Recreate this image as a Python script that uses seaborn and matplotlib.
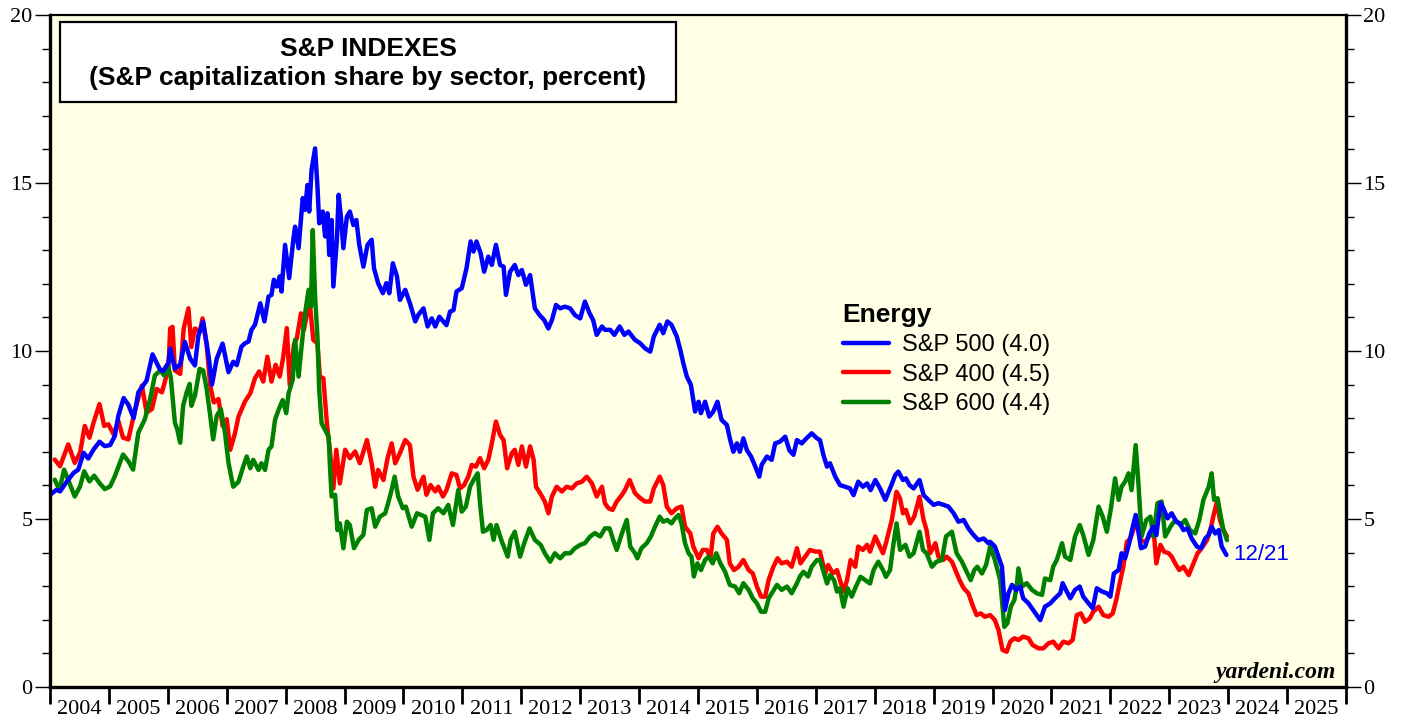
import numpy as np
import pandas as pd
import matplotlib
matplotlib.use("Agg")
import matplotlib.pyplot as plt
from matplotlib.patches import Rectangle
from matplotlib.ticker import MultipleLocator, FixedLocator, NullFormatter, FixedFormatter
import seaborn as sns

# S&P 500 energy share (decimal year, percent)
sp500_t = [2004.00, 2004.11, 2004.17, 2004.28, 2004.40, 2004.48, 2004.57, 2004.65, 2004.74, 2004.84,
           2004.93, 2005.02, 2005.10, 2005.16, 2005.25, 2005.33, 2005.42, 2005.50, 2005.64, 2005.74,
           2005.86, 2005.92, 2006.01, 2006.04, 2006.12, 2006.21, 2006.29, 2006.38, 2006.46, 2006.52,
           2006.60, 2006.69, 2006.75, 2006.83, 2006.93, 2007.03, 2007.11, 2007.17, 2007.25, 2007.31,
           2007.37, 2007.42, 2007.48, 2007.57, 2007.64, 2007.71, 2007.76, 2007.80, 2007.85, 2007.90,
           2007.93, 2007.99, 2008.06, 2008.13, 2008.16, 2008.22, 2008.29, 2008.33, 2008.37, 2008.40,
           2008.44, 2008.50, 2008.54, 2008.57, 2008.63, 2008.67, 2008.71, 2008.74, 2008.78, 2008.81,
           2008.87, 2008.90, 2008.94, 2008.98, 2009.04, 2009.09, 2009.15, 2009.20, 2009.25, 2009.32,
           2009.39, 2009.46, 2009.50, 2009.57, 2009.65, 2009.71, 2009.76, 2009.82, 2009.89, 2009.94,
           2010.03, 2010.11, 2010.20, 2010.25, 2010.34, 2010.41, 2010.48, 2010.54, 2010.61, 2010.68,
           2010.73, 2010.79, 2010.85, 2010.90, 2010.99, 2011.07, 2011.14, 2011.19, 2011.24, 2011.31,
           2011.37, 2011.44, 2011.50, 2011.57, 2011.64, 2011.70, 2011.74, 2011.81, 2011.89, 2011.95,
           2012.01, 2012.08, 2012.15, 2012.23, 2012.31, 2012.39, 2012.46, 2012.52, 2012.59, 2012.66,
           2012.74, 2012.83, 2012.91, 2013.00, 2013.08, 2013.16, 2013.22, 2013.28, 2013.37, 2013.42,
           2013.51, 2013.58, 2013.67, 2013.75, 2013.82, 2013.93, 2014.02, 2014.10, 2014.19, 2014.25,
           2014.35, 2014.41, 2014.48, 2014.55, 2014.64, 2014.70, 2014.75, 2014.81, 2014.88, 2014.92,
           2014.95, 2015.01, 2015.05, 2015.12, 2015.19, 2015.26, 2015.33, 2015.40, 2015.49, 2015.54,
           2015.60, 2015.66, 2015.71, 2015.77, 2015.83, 2015.90, 2015.95, 2016.04, 2016.08, 2016.17,
           2016.25, 2016.31, 2016.39, 2016.48, 2016.55, 2016.62, 2016.68, 2016.76, 2016.84, 2016.93,
           2017.02, 2017.07, 2017.13, 2017.19, 2017.24, 2017.33, 2017.41, 2017.50, 2017.58, 2017.64,
           2017.72, 2017.80, 2017.87, 2017.93, 2018.01, 2018.09, 2018.18, 2018.26, 2018.35, 2018.40,
           2018.48, 2018.53, 2018.59, 2018.66, 2018.76, 2018.83, 2018.91, 2019.00, 2019.08, 2019.17,
           2019.25, 2019.34, 2019.42, 2019.51, 2019.59, 2019.68, 2019.76, 2019.85, 2019.93, 2019.96,
           2020.04, 2020.10, 2020.16, 2020.21, 2020.27, 2020.33, 2020.40, 2020.47, 2020.52, 2020.61,
           2020.69, 2020.81, 2020.89, 2020.98, 2021.06, 2021.15, 2021.19, 2021.26, 2021.32, 2021.40,
           2021.48, 2021.54, 2021.63, 2021.70, 2021.77, 2021.86, 2021.94, 2022.00, 2022.06, 2022.14,
           2022.19, 2022.25, 2022.32, 2022.38, 2022.43, 2022.48, 2022.52, 2022.59, 2022.66, 2022.73,
           2022.78, 2022.85, 2022.90, 2022.97, 2023.04, 2023.12, 2023.18, 2023.24, 2023.31, 2023.38,
           2023.47, 2023.54, 2023.61, 2023.67, 2023.72, 2023.78, 2023.84, 2023.89, 2023.97]
sp500_v = [5.72, 5.87, 5.82, 6.10, 6.37, 6.47, 6.97, 6.80, 7.07, 7.30,
           7.17, 7.20, 7.47, 8.07, 8.60, 8.40, 8.00, 8.77, 9.12, 9.90,
           9.47, 9.40, 9.65, 10.07, 9.47, 9.60, 10.27, 9.77, 9.57, 10.47,
           10.87, 9.87, 9.00, 9.77, 10.22, 9.37, 9.68, 9.58, 10.13, 10.23,
           10.28, 10.63, 10.78, 11.42, 10.88, 11.62, 11.67, 12.12, 11.92, 12.22,
           11.77, 13.16, 12.17, 13.31, 13.70, 13.06, 14.55, 14.20, 14.94, 14.15,
           15.39, 16.03, 14.89, 13.80, 14.15, 13.41, 14.10, 12.86, 13.90, 11.92,
           13.31, 14.65, 13.95, 13.06, 14.00, 14.15, 13.75, 13.90, 13.16, 12.51,
           13.16, 13.31, 12.46, 12.02, 11.72, 12.02, 11.72, 12.61, 12.22, 11.52,
           11.82, 11.42, 10.88, 11.07, 11.27, 10.73, 10.97, 10.73, 11.02, 10.87,
           10.77, 11.17, 11.22, 11.77, 11.87, 12.46, 13.26, 12.96, 13.26, 12.91,
           12.36, 12.81, 12.56, 13.16, 12.56, 12.51, 11.67, 12.36, 12.56, 12.26,
           12.41, 11.97, 12.26, 11.27, 11.07, 10.92, 10.67, 10.92, 11.37, 11.27,
           11.32, 11.27, 11.07, 10.97, 11.47, 11.12, 10.92, 10.48, 10.73, 10.63,
           10.63, 10.48, 10.73, 10.48, 10.58, 10.33, 10.23, 10.08, 9.98, 10.43,
           10.78, 10.53, 10.88, 10.78, 10.43, 10.03, 9.64, 9.24, 8.99, 8.54,
           8.20, 8.49, 8.15, 8.49, 8.05, 8.20, 8.49, 7.95, 7.80, 7.40,
           7.00, 7.25, 7.00, 7.40, 7.05, 6.86, 6.66, 6.26, 6.61, 6.86,
           6.76, 7.25, 7.30, 7.45, 7.05, 6.91, 7.35, 7.25, 7.40, 7.55,
           7.40, 7.35, 6.90, 6.56, 6.66, 6.26, 6.01, 5.96, 5.91, 5.71,
           6.11, 5.96, 6.06, 5.86, 6.16, 5.91, 5.57, 5.91, 6.31, 6.41,
           6.16, 6.21, 6.01, 5.91, 6.16, 5.71, 5.57, 5.42, 5.47, 5.42,
           5.37, 5.17, 4.92, 4.97, 4.72, 4.52, 4.37, 4.42, 4.28, 4.32,
           4.18, 3.88, 3.58, 2.29, 2.79, 3.04, 2.89, 2.99, 2.64, 2.49,
           2.29, 1.99, 2.39, 2.49, 2.64, 2.79, 3.09, 2.84, 2.64, 2.89,
           2.99, 2.69, 2.49, 2.34, 2.94, 2.84, 2.79, 2.69, 3.38, 3.48,
           3.98, 3.83, 4.28, 4.77, 5.12, 4.57, 4.13, 4.18, 4.57, 4.77,
           4.52, 5.47, 5.32, 5.02, 5.17, 4.92, 4.87, 4.67, 4.72, 4.42,
           4.18, 4.13, 4.42, 4.52, 4.77, 4.57, 4.67, 4.18, 3.93]

# S&P 400 energy share
sp400_t = [2004.08, 2004.17, 2004.31, 2004.42, 2004.51, 2004.59, 2004.67, 2004.74, 2004.84, 2004.92,
           2004.99, 2005.08, 2005.16, 2005.24, 2005.33, 2005.44, 2005.56, 2005.64, 2005.73, 2005.81,
           2005.90, 2006.01, 2006.04, 2006.08, 2006.12, 2006.21, 2006.27, 2006.35, 2006.40, 2006.46,
           2006.54, 2006.59, 2006.66, 2006.72, 2006.78, 2006.86, 2006.93, 2007.00, 2007.06, 2007.14,
           2007.20, 2007.25, 2007.31, 2007.40, 2007.48, 2007.55, 2007.62, 2007.69, 2007.76, 2007.83,
           2007.90, 2007.96, 2008.02, 2008.07, 2008.14, 2008.19, 2008.26, 2008.31, 2008.37, 2008.41,
           2008.47, 2008.54, 2008.58, 2008.64, 2008.70, 2008.75, 2008.81, 2008.86, 2008.92, 2009.01,
           2009.09, 2009.18, 2009.26, 2009.38, 2009.46, 2009.52, 2009.57, 2009.66, 2009.73, 2009.80,
           2009.86, 2009.94, 2010.03, 2010.11, 2010.17, 2010.24, 2010.34, 2010.39, 2010.46, 2010.54,
           2010.59, 2010.67, 2010.73, 2010.82, 2010.90, 2010.96, 2011.03, 2011.10, 2011.16, 2011.23,
           2011.30, 2011.37, 2011.44, 2011.50, 2011.57, 2011.64, 2011.70, 2011.76, 2011.84, 2011.89,
           2011.95, 2012.01, 2012.08, 2012.15, 2012.21, 2012.25, 2012.32, 2012.40, 2012.46, 2012.52,
           2012.60, 2012.69, 2012.77, 2012.86, 2012.94, 2013.03, 2013.11, 2013.20, 2013.28, 2013.37,
           2013.42, 2013.48, 2013.55, 2013.62, 2013.71, 2013.76, 2013.84, 2013.93, 2014.02, 2014.10,
           2014.19, 2014.25, 2014.35, 2014.41, 2014.47, 2014.55, 2014.64, 2014.72, 2014.78, 2014.87,
           2014.92, 2015.01, 2015.08, 2015.15, 2015.21, 2015.26, 2015.33, 2015.40, 2015.49, 2015.54,
           2015.61, 2015.69, 2015.77, 2015.86, 2015.93, 2016.00, 2016.07, 2016.14, 2016.20, 2016.28,
           2016.35, 2016.42, 2016.51, 2016.59, 2016.68, 2016.74, 2016.82, 2016.90, 2016.99, 2017.07,
           2017.16, 2017.21, 2017.29, 2017.36, 2017.41, 2017.47, 2017.53, 2017.59, 2017.67, 2017.72,
           2017.80, 2017.87, 2017.92, 2018.01, 2018.06, 2018.14, 2018.19, 2018.29, 2018.37, 2018.43,
           2018.48, 2018.53, 2018.60, 2018.67, 2018.76, 2018.83, 2018.88, 2018.94, 2019.03, 2019.08,
           2019.16, 2019.22, 2019.31, 2019.37, 2019.44, 2019.51, 2019.59, 2019.67, 2019.73, 2019.80,
           2019.87, 2019.96, 2020.04, 2020.10, 2020.17, 2020.24, 2020.30, 2020.37, 2020.44, 2020.52,
           2020.61, 2020.68, 2020.78, 2020.86, 2020.95, 2021.03, 2021.12, 2021.20, 2021.29, 2021.36,
           2021.43, 2021.50, 2021.57, 2021.65, 2021.71, 2021.80, 2021.88, 2021.97, 2022.04, 2022.10,
           2022.17, 2022.22, 2022.28, 2022.34, 2022.39, 2022.45, 2022.51, 2022.59, 2022.66, 2022.73,
           2022.78, 2022.85, 2022.91, 2022.99, 2023.04, 2023.10, 2023.17, 2023.24, 2023.33, 2023.41,
           2023.48, 2023.55, 2023.64, 2023.71, 2023.76, 2023.81, 2023.86, 2023.92, 2023.98]
sp400_v = [6.77, 6.57, 7.22, 6.67, 6.97, 7.77, 7.42, 7.87, 8.42, 7.77,
           7.82, 7.52, 7.92, 7.42, 7.37, 8.22, 8.97, 8.17, 8.27, 8.87,
           8.77, 9.47, 10.67, 10.72, 9.42, 9.32, 10.67, 11.27, 10.12, 10.67,
           10.57, 10.97, 10.17, 8.97, 8.47, 8.57, 7.77, 7.97, 7.06, 7.55,
           8.05, 8.25, 8.50, 8.74, 9.19, 9.39, 9.09, 9.83, 9.09, 9.59,
           9.24, 9.83, 10.68, 8.99, 10.18, 10.38, 11.12, 10.63, 11.17, 11.42,
           10.33, 10.23, 9.24, 9.19, 7.85, 7.06, 5.91, 7.06, 6.06, 7.06,
           6.81, 7.01, 6.66, 7.35, 6.66, 5.96, 6.46, 6.16, 6.81, 7.25,
           6.66, 6.96, 7.35, 7.20, 6.26, 5.87, 6.26, 5.72, 6.01, 5.82,
           5.96, 5.67, 5.86, 6.36, 6.31, 5.91, 6.01, 6.26, 6.61, 6.56,
           6.81, 6.51, 6.76, 7.25, 7.90, 7.50, 7.35, 6.51, 6.96, 7.06,
           6.61, 7.16, 6.56, 7.16, 6.76, 5.96, 5.77, 5.52, 5.17, 5.67,
           5.96, 5.82, 5.96, 5.91, 6.06, 6.11, 6.26, 6.06, 5.67, 5.96,
           5.47, 5.32, 5.27, 5.52, 5.72, 5.86, 6.16, 5.77, 5.62, 5.52,
           5.52, 5.91, 6.26, 6.01, 5.37, 5.17, 5.32, 5.37, 4.77, 4.57,
           4.18, 3.83, 4.08, 4.08, 3.83, 4.57, 4.77, 4.57, 4.38, 3.68,
           3.48, 3.58, 3.78, 3.48, 3.38, 2.99, 2.69, 2.69, 3.19, 3.58,
           3.83, 3.68, 3.73, 3.58, 4.13, 3.68, 3.88, 4.08, 4.03, 4.03,
           3.38, 3.63, 3.38, 3.48, 3.18, 2.84, 3.18, 3.78, 3.58, 4.18,
           4.08, 4.23, 4.03, 4.48, 4.28, 3.98, 4.28, 4.97, 5.81, 5.61,
           5.17, 5.27, 4.87, 5.07, 5.66, 4.97, 4.67, 3.98, 4.28, 3.88,
           3.78, 3.88, 3.73, 3.48, 3.18, 2.94, 2.79, 2.39, 2.14, 2.19,
           2.09, 2.14, 1.99, 1.70, 1.10, 1.05, 1.35, 1.45, 1.40, 1.50,
           1.45, 1.25, 1.15, 1.15, 1.30, 1.35, 1.15, 1.35, 1.30, 1.40,
           2.14, 2.19, 1.94, 2.04, 2.24, 2.39, 2.14, 2.09, 2.19, 2.59,
           3.18, 3.58, 4.32, 4.42, 4.67, 4.97, 4.37, 4.32, 4.48, 4.77,
           3.68, 4.23, 4.03, 3.98, 3.88, 3.68, 3.48, 3.58, 3.33, 3.68,
           3.98, 4.13, 4.37, 4.77, 5.17, 5.52, 4.97, 4.67, 4.48]

# S&P 600 energy share
sp600_t = [2004.08, 2004.16, 2004.24, 2004.33, 2004.42, 2004.51, 2004.58, 2004.67, 2004.75, 2004.84,
           2004.93, 2005.02, 2005.10, 2005.24, 2005.33, 2005.41, 2005.50, 2005.61, 2005.70, 2005.78,
           2005.87, 2005.94, 2006.01, 2006.05, 2006.12, 2006.16, 2006.21, 2006.26, 2006.32, 2006.37,
           2006.40, 2006.46, 2006.54, 2006.60, 2006.66, 2006.72, 2006.77, 2006.83, 2006.90, 2006.97,
           2007.03, 2007.11, 2007.20, 2007.28, 2007.34, 2007.40, 2007.45, 2007.54, 2007.59, 2007.65,
           2007.71, 2007.76, 2007.82, 2007.88, 2007.95, 2008.01, 2008.05, 2008.12, 2008.16, 2008.22,
           2008.27, 2008.33, 2008.39, 2008.43, 2008.46, 2008.50, 2008.54, 2008.57, 2008.61, 2008.67,
           2008.73, 2008.75, 2008.78, 2008.84, 2008.88, 2008.92, 2008.98, 2009.04, 2009.09, 2009.16,
           2009.24, 2009.32, 2009.38, 2009.46, 2009.52, 2009.60, 2009.69, 2009.74, 2009.80, 2009.85,
           2009.91, 2009.99, 2010.04, 2010.14, 2010.23, 2010.37, 2010.44, 2010.50, 2010.59, 2010.68,
           2010.76, 2010.84, 2010.93, 2010.99, 2011.06, 2011.13, 2011.19, 2011.26, 2011.30, 2011.35,
           2011.41, 2011.48, 2011.53, 2011.58, 2011.67, 2011.77, 2011.82, 2011.89, 2011.98, 2012.05,
           2012.14, 2012.23, 2012.33, 2012.40, 2012.49, 2012.57, 2012.66, 2012.74, 2012.83, 2012.91,
           2013.00, 2013.08, 2013.17, 2013.25, 2013.34, 2013.42, 2013.50, 2013.56, 2013.62, 2013.71,
           2013.79, 2013.85, 2013.93, 2013.97, 2014.04, 2014.13, 2014.20, 2014.27, 2014.35, 2014.41,
           2014.48, 2014.55, 2014.61, 2014.67, 2014.72, 2014.78, 2014.84, 2014.89, 2014.93, 2014.99,
           2015.05, 2015.12, 2015.18, 2015.25, 2015.31, 2015.38, 2015.46, 2015.54, 2015.63, 2015.70,
           2015.77, 2015.86, 2015.93, 2016.00, 2016.07, 2016.14, 2016.20, 2016.27, 2016.34, 2016.42,
           2016.51, 2016.59, 2016.68, 2016.73, 2016.79, 2016.87, 2016.93, 2017.02, 2017.07, 2017.14,
           2017.19, 2017.24, 2017.31, 2017.36, 2017.41, 2017.47, 2017.54, 2017.61, 2017.68, 2017.76,
           2017.84, 2017.92, 2017.98, 2018.06, 2018.14, 2018.19, 2018.26, 2018.32, 2018.37, 2018.43,
           2018.52, 2018.59, 2018.66, 2018.76, 2018.82, 2018.88, 2018.97, 2019.05, 2019.14, 2019.21,
           2019.31, 2019.39, 2019.48, 2019.56, 2019.63, 2019.69, 2019.74, 2019.82, 2019.89, 2019.96,
           2020.04, 2020.13, 2020.20, 2020.25, 2020.31, 2020.37, 2020.41, 2020.44, 2020.50, 2020.58,
           2020.67, 2020.75, 2020.84, 2020.89, 2020.98, 2021.03, 2021.09, 2021.18, 2021.23, 2021.32,
           2021.40, 2021.48, 2021.54, 2021.63, 2021.71, 2021.80, 2021.87, 2021.94, 2022.01, 2022.08,
           2022.14, 2022.19, 2022.25, 2022.31, 2022.36, 2022.43, 2022.48, 2022.53, 2022.61, 2022.68,
           2022.73, 2022.80, 2022.87, 2022.93, 2023.02, 2023.10, 2023.19, 2023.27, 2023.35, 2023.44,
           2023.51, 2023.58, 2023.67, 2023.72, 2023.76, 2023.82, 2023.88, 2023.92, 2023.98]
sp600_v = [6.17, 5.87, 6.47, 6.07, 5.67, 5.97, 6.42, 6.12, 6.29, 6.07,
           5.89, 5.97, 6.27, 6.92, 6.72, 6.47, 7.57, 7.97, 8.57, 9.27,
           9.42, 9.27, 9.52, 9.22, 7.87, 7.67, 7.27, 8.37, 8.77, 9.02,
           8.37, 8.67, 9.47, 9.42, 8.87, 8.07, 7.37, 8.07, 8.27, 7.57,
           6.67, 5.96, 6.11, 6.56, 6.86, 6.51, 6.76, 6.46, 6.66, 6.46,
           7.06, 7.16, 7.95, 8.25, 8.54, 8.15, 8.74, 9.14, 10.33, 9.24,
           10.13, 11.12, 11.82, 11.32, 13.60, 11.62, 10.43, 8.84, 7.85, 7.65,
           7.45, 6.66, 5.67, 5.72, 4.67, 4.87, 4.13, 4.92, 4.82, 4.13,
           4.38, 4.53, 5.27, 5.32, 4.77, 5.07, 5.17, 5.47, 5.87, 6.26,
           5.67, 5.32, 5.37, 4.77, 5.17, 5.07, 4.38, 5.17, 5.32, 5.17,
           5.42, 4.82, 5.86, 5.22, 5.37, 5.96, 6.16, 6.36, 5.47, 4.62,
           4.67, 4.82, 4.38, 4.82, 4.33, 3.88, 4.38, 4.62, 3.88, 4.28,
           4.72, 4.38, 4.23, 3.98, 3.73, 3.98, 3.83, 3.98, 3.98, 4.13,
           4.23, 4.28, 4.48, 4.58, 4.48, 4.72, 4.72, 4.38, 4.08, 4.58,
           4.97, 4.18, 3.98, 3.83, 4.13, 4.28, 4.48, 4.77, 5.07, 4.92,
           4.97, 4.87, 5.02, 5.12, 4.87, 4.28, 3.98, 3.88, 3.29, 3.68,
           3.48, 3.78, 3.88, 3.68, 3.98, 3.68, 3.43, 3.04, 2.99, 2.79,
           3.09, 2.89, 2.64, 2.49, 2.24, 2.24, 2.64, 2.84, 3.04, 2.89,
           2.99, 2.79, 3.09, 3.29, 3.43, 3.29, 3.58, 3.78, 3.78, 3.38,
           3.08, 3.33, 3.18, 2.84, 2.94, 2.39, 2.94, 2.69, 2.99, 3.28,
           3.18, 3.08, 3.48, 3.73, 3.48, 3.28, 3.48, 4.28, 4.87, 4.08,
           4.23, 3.88, 3.98, 4.62, 4.08, 3.98, 3.58, 3.73, 3.78, 4.48,
           4.62, 3.98, 3.73, 3.43, 3.18, 3.48, 3.58, 3.38, 3.63, 4.18,
           3.78, 3.18, 1.79, 1.89, 2.39, 2.59, 2.99, 3.53, 2.99, 3.09,
           2.89, 2.79, 2.74, 3.23, 3.18, 3.58, 3.78, 4.28, 3.88, 3.78,
           4.48, 4.82, 4.52, 3.93, 4.37, 5.37, 5.07, 4.62, 5.32, 6.21,
           5.57, 5.96, 6.11, 6.36, 5.86, 7.20, 5.96, 4.48, 4.97, 5.07,
           4.48, 5.47, 5.52, 4.48, 4.77, 4.97, 4.82, 4.97, 4.67, 4.57,
           4.97, 5.57, 5.96, 6.36, 5.57, 5.62, 5.02, 4.67, 4.37]

labels = ["S&P 500 (4.0)", "S&P 400 (4.5)", "S&P 600 (4.4)"]
colors = {"S&P 500 (4.0)": "#0000ff", "S&P 400 (4.5)": "#ff0000", "S&P 600 (4.4)": "#008000"}
year_ticks = list(range(2004, 2027))
year_labels = [str(y) for y in range(2004, 2026)]

df = pd.concat([
    pd.DataFrame({"year": sp400_t, "share": sp400_v, "series": labels[1]}),
    pd.DataFrame({"year": sp600_t, "share": sp600_v, "series": labels[2]}),
    pd.DataFrame({"year": sp500_t, "share": sp500_v, "series": labels[0]}),
])

sns.set_style("ticks")
plt.rcParams["font.family"] = ["Liberation Sans", "DejaVu Sans"]
plt.rcParams["text.color"] = "black"
plt.rcParams["xtick.color"] = "black"
plt.rcParams["ytick.color"] = "black"

fig = plt.figure(figsize=(14.05, 7.19), dpi=100)
ax = fig.add_axes([50 / 1405, 32 / 719, 1296 / 1405, 672 / 719])
ax.set_facecolor("#ffffe6")

sns.lineplot(data=df, x="year", y="share", hue="series", palette=colors,
             estimator=None, sort=False, linewidth=3.2, ax=ax, legend=False)

ax.set_xlim(2004, 2026)
ax.set_ylim(0, 20)
ax.set_xlabel("")
ax.set_ylabel("")

# y axis on both sides
ax.yaxis.set_major_locator(MultipleLocator(5))
ax.yaxis.set_minor_locator(MultipleLocator(1))
ax.tick_params(axis="y", which="both", left=True, right=True, labelleft=True, labelright=True,
               direction="out", colors="black")
ax.tick_params(axis="y", which="major", length=11, width=1.0, pad=1.5, labelsize=16)
ax.tick_params(axis="y", which="minor", length=6, width=1.0)
for lab in ax.get_yticklabels():
    lab.set_fontfamily("Liberation Serif")

# x axis: ticks at year boundaries, labels centred in each year
ax.xaxis.set_major_locator(FixedLocator(year_ticks))
ax.xaxis.set_major_formatter(NullFormatter())
ax.xaxis.set_minor_locator(FixedLocator([y + 0.5 for y in range(2004, 2026)]))
ax.xaxis.set_minor_formatter(FixedFormatter(year_labels))
ax.tick_params(axis="x", which="major", length=12, width=2.0, direction="out")
ax.tick_params(axis="x", which="minor", length=0, pad=9.5, labelsize=16, colors="black")
for lab in ax.get_xticklabels(minor=True):
    lab.set_fontfamily("Liberation Serif")

for side in ["left", "bottom", "right"]:
    ax.spines[side].set_linewidth(2.4)
    ax.spines[side].set_color("black")
ax.spines["top"].set_linewidth(1.6)
ax.spines["top"].set_color("black")

# title box
ax.add_patch(Rectangle((0.0077, 0.8705), 0.4753, 0.1191, transform=ax.transAxes,
                       facecolor="white", edgecolor="black", linewidth=1.6, zorder=5))
ax.text(0.2454, 0.9494, "S&P INDEXES", transform=ax.transAxes, ha="center", va="center",
        fontsize=19, fontweight="bold", color="black", zorder=6)
ax.text(0.2454, 0.9062, "(S&P capitalization share by sector, percent)", transform=ax.transAxes,
        ha="center", va="center", fontsize=19, fontweight="bold", color="black", zorder=6)

# legend
handles = [plt.Line2D([], [], color=colors[l], linewidth=3.2) for l in labels]
leg = ax.legend(handles, labels, title="Energy", loc="upper left", bbox_to_anchor=(0.6115, 0.572),
                frameon=False, fontsize=17, handlelength=1.95, handletextpad=0.55,
                labelspacing=0.32, borderpad=0, borderaxespad=0,
                title_fontproperties={"weight": "bold", "size": 19})
leg._legend_box.align = "left"
for t in leg.get_texts():
    t.set_color("black")
leg.get_title().set_color("black")

# last-date label
ax.annotate("12/21", xy=(sp500_t[-1], sp500_v[-1]), xytext=(5, 0), textcoords="offset points",
            color="#0000ff", fontsize=16, va="center", ha="left")

ax.text(0.992, 0.022, "yardeni.com", transform=ax.transAxes, ha="right", va="center",
        fontsize=17, fontweight="bold", fontstyle="italic", fontfamily="Liberation Serif")

fig.savefig("out.png", dpi=100)
